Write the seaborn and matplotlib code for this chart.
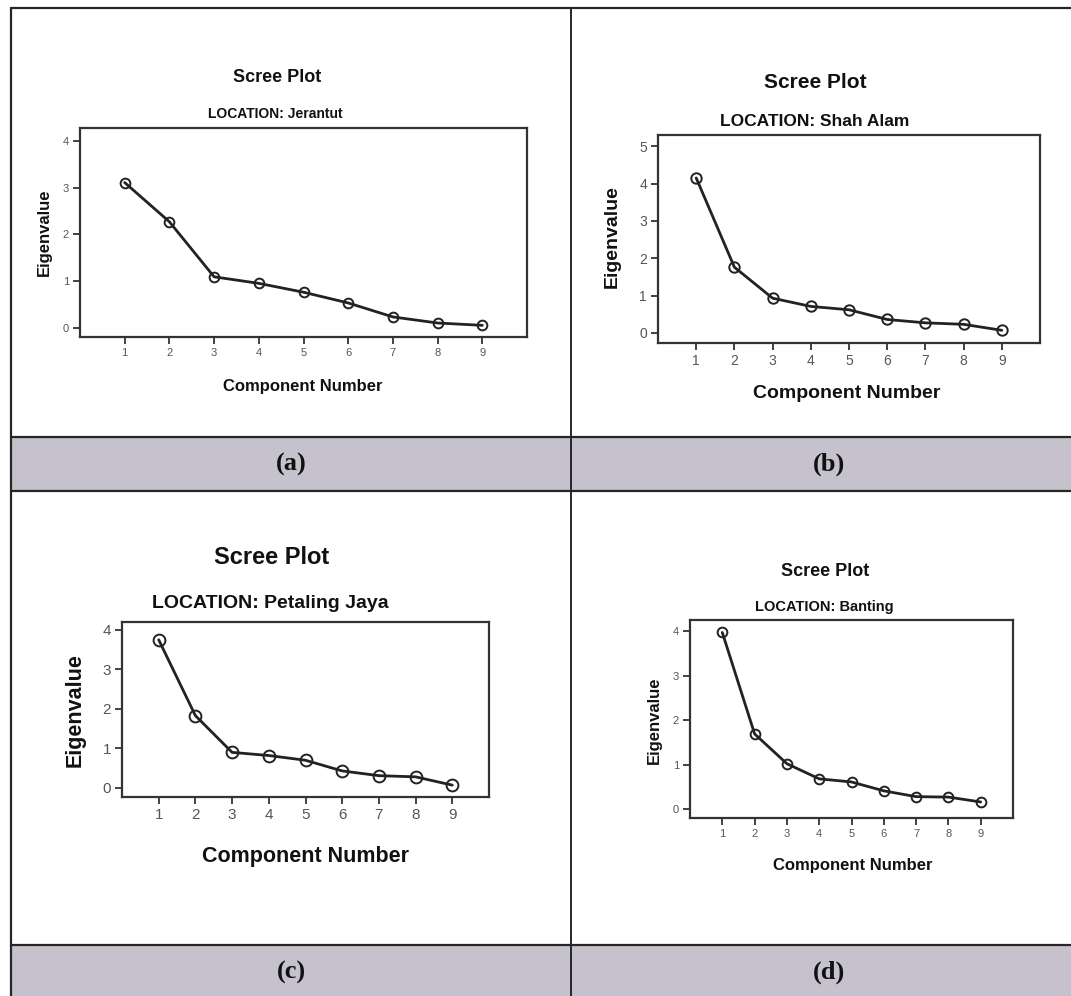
import matplotlib
matplotlib.use("Agg")
import matplotlib.pyplot as plt
import seaborn as sns
from matplotlib.patches import Rectangle
from matplotlib.lines import Line2D

# data
components = [1, 2, 3, 4, 5, 6, 7, 8, 9]
jerantut = [3.11, 2.27, 1.09, 0.95, 0.76, 0.53, 0.23, 0.10, 0.05]
shah_alam = [4.15, 1.76, 0.93, 0.71, 0.62, 0.36, 0.27, 0.23, 0.07]
petaling_jaya = [3.75, 1.83, 0.90, 0.82, 0.70, 0.43, 0.31, 0.28, 0.07]
banting = [3.97, 1.69, 1.02, 0.68, 0.61, 0.41, 0.28, 0.27, 0.16]
locations = ["Jerantut", "Shah Alam", "Petaling Jaya", "Banting"]
panel_tags = ["(a)", "(b)", "(c)", "(d)"]
y_ticks = [[0, 1, 2, 3, 4], [0, 1, 2, 3, 4, 5], [0, 1, 2, 3, 4], [0, 1, 2, 3, 4]]

sns.set_theme(style="white")
plt.rcParams["font.family"] = ["Liberation Sans", "DejaVu Sans"]

W, H = 1071, 996
fig = plt.figure(figsize=(W / 100, H / 100), dpi=100)
fig.patch.set_facecolor("white")


def fx(px):
    return px / W


def fy(py):
    return 1 - py / H


# frame: grey tag bands and dividing lines
band_color = "#c6c2cd"
line_color = "#262626"
for top, bottom in [(437, 491), (945, 996)]:
    fig.patches.append(Rectangle((fx(11), fy(bottom)), fx(1071 - 11), (bottom - top) / H,
                                 transform=fig.transFigure, facecolor=band_color,
                                 edgecolor="none", zorder=0))
for y in [8, 437, 491, 945]:
    fig.lines.append(Line2D([fx(11), fx(1071)], [fy(y), fy(y)], transform=fig.transFigure,
                            color=line_color, lw=1.6))
fig.lines.append(Line2D([fx(11), fx(11)], [fy(8), fy(996)], transform=fig.transFigure,
                        color=line_color, lw=1.6))
fig.lines.append(Line2D([fx(571), fx(571)], [fy(8), fy(996)], transform=fig.transFigure,
                        color=line_color, lw=1.4))

tag_pos = [(291, 464), (829, 464), (291, 972), (829, 972)]
for tag, (tx, ty) in zip(panel_tags, tag_pos):
    fig.text(fx(tx), fy(ty), tag, ha="center", va="center", fontsize=19,
             fontweight="bold", family=["Liberation Serif", "DejaVu Serif"], color="#111111")

# per-panel layout: axes box (left, top, right, bottom) in px, y limits, text spots and sizes
panels = [
    dict(values=jerantut, box=(80, 128, 527, 337), ylim=(-0.2, 4.28),
         title=(277, 77, 13), loc=(275, 114, 10), xlab=(303, 387, 12), ylab=(44, 232, 12),
         tick=8, ms=7),
    dict(values=shah_alam, box=(658, 135, 1040, 343), ylim=(-0.27, 5.3),
         title=(815, 82, 15), loc=(815, 121, 12.5), xlab=(847, 393, 14), ylab=(612, 237, 14),
         tick=10, ms=7.5),
    dict(values=petaling_jaya, box=(122, 622, 489, 797), ylim=(-0.23, 4.2),
         title=(272, 557, 17), loc=(270, 604, 14), xlab=(306, 856, 15.5), ylab=(75, 710, 15.5),
         tick=11, ms=8.5),
    dict(values=banting, box=(690, 620, 1013, 818), ylim=(-0.2, 4.25),
         title=(825, 571, 13), loc=(824, 607, 10.5), xlab=(853, 865, 12), ylab=(654, 720, 12),
         tick=8, ms=7),
]

for p, location, yt in zip(panels, locations, y_ticks):
    left, top, right, bottom = p["box"]
    ax = fig.add_axes([fx(left), fy(bottom), (right - left) / W, (bottom - top) / H])
    sns.lineplot(x=components, y=p["values"], ax=ax, color="#222222", lw=2,
                 marker="o", markersize=p["ms"], markerfacecolor="none",
                 markeredgecolor="#222222", markeredgewidth=1.4)
    ax.set_xlim(0, 10)
    ax.set_ylim(*p["ylim"])
    ax.set_xticks(components)
    ax.set_yticks(yt)
    ax.set_xlabel("")
    ax.set_ylabel("")
    for s in ax.spines.values():
        s.set_color("#333333")
        s.set_linewidth(1.6)
        s.set_visible(True)
    ax.tick_params(axis="both", direction="out", length=5, width=1.3, color="#333333",
                   labelsize=p["tick"], labelcolor="#555555", pad=3,
                   bottom=True, left=True)

    tx, ty, ts = p["title"]
    fig.text(fx(tx), fy(ty), "Scree Plot", ha="center", va="center", fontsize=ts,
             fontweight="bold", color="#111111")
    tx, ty, ts = p["loc"]
    fig.text(fx(tx), fy(ty), f"LOCATION: {location}", ha="center", va="center",
             fontsize=ts, fontweight="bold", color="#111111")
    tx, ty, ts = p["xlab"]
    fig.text(fx(tx), fy(ty), "Component Number", ha="center", va="center", fontsize=ts,
             fontweight="bold", color="#111111")
    tx, ty, ts = p["ylab"]
    fig.text(fx(tx), fy(ty), "Eigenvalue", ha="center", va="center", rotation=90,
             fontsize=ts, fontweight="bold", color="#111111")

fig.savefig("out.png", dpi=100, facecolor="white")
